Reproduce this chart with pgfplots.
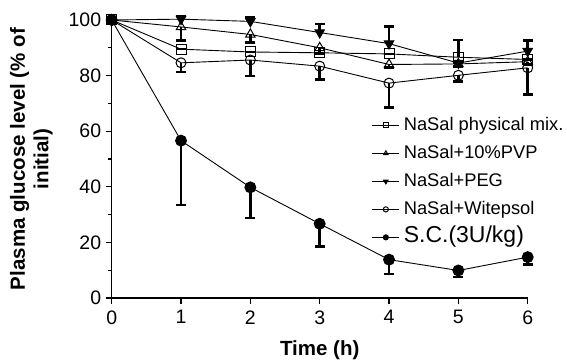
\documentclass[border=0pt]{standalone}
\usepackage{fontspec}
\setmainfont{Liberation Sans}
\usepackage{pgfplots}
\pgfplotsset{compat=1.18}
\begin{document}
\begin{tikzpicture}
\begin{axis}[
  name=ax,
  at={(0,0)}, anchor=south west,
  scale only axis,
  width=416bp, height=278bp,
  xmin=0, xmax=6, ymin=0, ymax=100,
  axis x line=bottom, axis y line=left,
  axis line style={-, line width=1.3bp},
  xtick={0,1,2,3,4,5,6},
  ytick={0,20,40,60,80,100},
  minor y tick num=1,
  tick align=outside,
  major tick length=6bp, minor tick length=4bp,
  tick style={line width=1.2bp, black},
  /pgf/number format/assume math mode=true,
  tick label style={font=\fontsize{19.5bp}{22bp}\selectfont},
  xticklabel style={yshift=-3bp},
  yticklabel style={xshift=-1bp},
  xlabel={Time (h)},
  ylabel={Plasma glucose level (\% of\\initial)},
  xlabel style={font=\bfseries\fontsize{20.5bp}{23bp}\selectfont, at={(axis description cs:0.5,-0.187)}, anchor=center},
  ylabel style={font=\bfseries\fontsize{20.5bp}{23.5bp}\selectfont, align=center, at={(axis description cs:-0.193,0.5)}, anchor=center},
  clip=false,
  legend cell align=left,
  legend style={draw=none, fill=none, at={(axis description cs:0.625,0.654)}, anchor=north west,
    font=\fontsize{18.3bp}{22bp}\selectfont, row sep=10bp, inner sep=0pt,
    nodes={text height=14bp, text depth=4bp, inner sep=0pt},
    /tikz/every odd column/.append style={column sep=4bp}},
  legend image code/.code={\draw[mark repeat=2,mark phase=2,mark size=2.6bp] plot coordinates {(0bp,0bp)(13.5bp,0bp)(27bp,0bp)};},
  every axis plot/.append style={line width=0.9bp},
  error bars/error bar style={line width=2.6bp, black},
  error bars/error mark options={line width=2.6bp, mark size=5bp, black, rotate=90},
]
% NaSal physical mix
\addplot[black, mark=square, mark size=5bp, mark options={fill=white, line width=1bp},
  error bars/.cd, y dir=plus, y explicit]
  table[x=t, y=v, y error=e]{
t v e
0 100 0
1 89.5 0
2 88.5 0
3 88.2 0
4 87.8 0
5 86.6 6.2
6 85.8 0
};
\addlegendentry{NaSal physical mix.}
% PVP
\addplot[black, mark=triangle, mark size=5.5bp, mark options={fill=white, line width=1bp},
  error bars/.cd, y dir=minus, y explicit]
  table[x=t, y=v, y error=e]{
t v e
0 100 0
1 97.5 4.8
2 94.8 3.0
3 90.0 2.0
4 84.0 1.0
5 84.2 1.0
6 85.0 1.0
};
\addlegendentry{NaSal+10\%PVP}
% PEG
\addplot[black, mark=triangle*, mark size=5.5bp, mark options={rotate=180, fill=black},
  error bars/.cd, y dir=plus, y explicit]
  table[x=t, y=v, y error=e]{
t v e
0 100 0
1 100.3 1.2
2 99.5 1.6
3 95.5 3.0
4 91.5 6.2
5 84.5 0
6 88.8 3.8
};
\addlegendentry{NaSal+PEG}
% Witepsol
\addplot[black, mark=o, mark size=5bp, mark options={fill=white, line width=1bp},
  error bars/.cd, y dir=minus, y explicit]
  table[x=t, y=v, y error=e]{
t v e
0 100 0
1 84.6 3.3
2 85.6 5.7
3 83.4 4.9
4 77.3 8.8
5 80.1 2.2
6 82.8 9.5
};
\addlegendentry{NaSal+Witepsol}
% S.C.
\addplot[black, mark=*, mark size=5.5bp,
  error bars/.cd, y dir=minus, y explicit]
  table[x=t, y=v, y error=e]{
t v e
0 100 0
1 56.6 23.1
2 39.8 11.0
3 26.7 8.1
4 13.8 5.1
5 9.9 2.4
6 14.7 2.6
};
\addlegendentry{\fontsize{23bp}{26bp}\selectfont S.C.(3U/kg)}
\end{axis}
\pgfresetboundingbox
\useasboundingbox (ax.south west) ++(-111.7bp,-64bp) rectangle ++(567bp,362bp);
\end{tikzpicture}
\end{document}
